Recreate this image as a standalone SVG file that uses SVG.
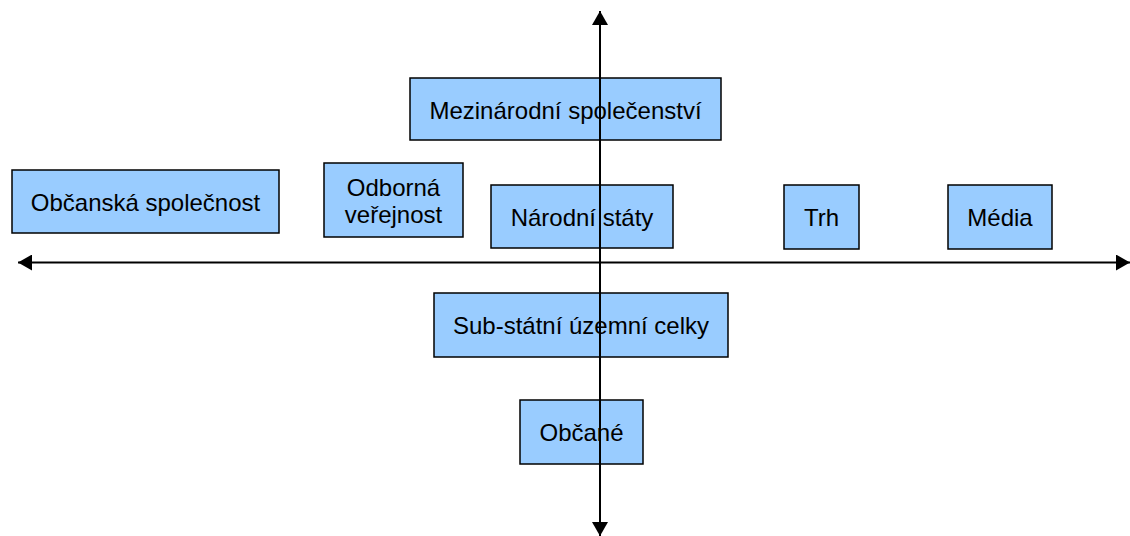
<svg xmlns="http://www.w3.org/2000/svg" width="1130" height="536" viewBox="0 0 1130 536">
  <style>
    .box { fill: #99ccff; stroke: #000; stroke-width: 1.5; }
    .lbl { font-family: "Liberation Sans", Arial, sans-serif; font-size: 24px; fill: #000; text-anchor: middle; dominant-baseline: central; }
    .axis { stroke: #000; stroke-width: 2; fill: none; }
  </style>
  <defs>
    <marker id="arrow" viewBox="0 0 14 16" refX="14" refY="8" markerWidth="14" markerHeight="16" markerUnits="userSpaceOnUse" orient="auto-start-reverse">
      <path d="M0,0 L14,8 L0,16 Z" fill="#000"/>
    </marker>
  </defs>
  <rect width="1130" height="536" fill="#fff"/>

  <g id="n-mezinarodni">
    <rect class="box" x="410" y="78" width="311" height="62"/>
    <text class="lbl" x="565.5" y="110">Mezinárodní společenství</text>
  </g>
  <g id="n-obcanska">
    <rect class="box" x="12" y="170" width="267" height="63"/>
    <text class="lbl" x="145.5" y="202">Občanská společnost</text>
  </g>
  <g id="n-odborna">
    <rect class="box" x="324" y="163" width="139" height="74"/>
    <text class="lbl" x="393.5" y="187">Odborná</text>
    <text class="lbl" x="393.5" y="214">veřejnost</text>
  </g>
  <g id="n-narodni">
    <rect class="box" x="491" y="185" width="182" height="63"/>
    <text class="lbl" x="582" y="217">Národní státy</text>
  </g>
  <g id="n-trh">
    <rect class="box" x="784" y="185" width="75" height="64"/>
    <text class="lbl" x="821.5" y="217">Trh</text>
  </g>
  <g id="n-media">
    <rect class="box" x="948" y="185" width="104" height="64"/>
    <text class="lbl" x="1000" y="217">Média</text>
  </g>
  <g id="n-substatni">
    <rect class="box" x="434" y="293" width="294" height="64"/>
    <text class="lbl" x="581" y="325">Sub-státní územní celky</text>
  </g>
  <g id="n-obcane">
    <rect class="box" x="520" y="400" width="123" height="64"/>
    <text class="lbl" x="581.5" y="432">Občané</text>
  </g>

  <g id="connectors">
    <line class="axis" x1="18" y1="262.5" x2="1130" y2="262.5" marker-start="url(#arrow)" marker-end="url(#arrow)"/>
    <line class="axis" x1="600" y1="11" x2="600" y2="536" marker-start="url(#arrow)" marker-end="url(#arrow)"/>
  </g>
</svg>
